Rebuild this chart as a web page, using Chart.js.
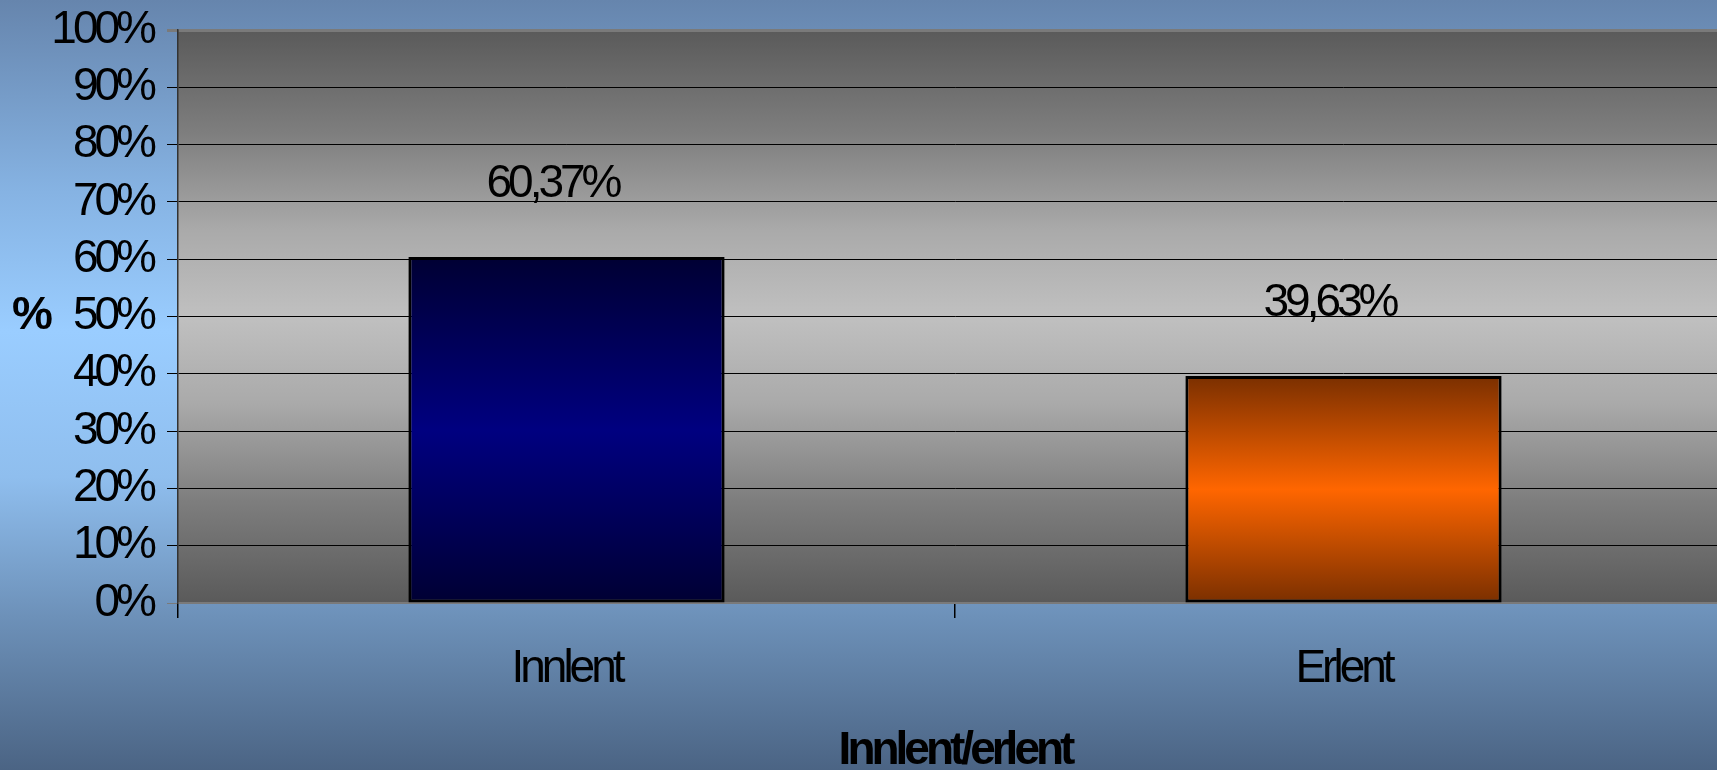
<!DOCTYPE html>
<html>
<head>
<meta charset="utf-8">
<script src="https://cdn.jsdelivr.net/npm/chart.js@4/dist/chart.umd.min.js"></script>
<style>
  html, body { margin:0; padding:0; width:1717px; height:770px; overflow:hidden;
    background: linear-gradient(to bottom, #6685ad 0%, #86b3e3 25%, #9acdff 43%, #8fbeee 62%, #6d91b9 80%, #4b6484 100%); }
  #wrap { position:absolute; left:0; top:0; }
</style>
</head>
<body>
<div id="wrap"><canvas id="c" width="1740" height="770"></canvas></div>
<script>
const categories = ['Innlent', 'Erlent'];
const values = [60.37, 39.63];
const yTicks = [0, 10, 20, 30, 40, 50, 60, 70, 80, 90, 100];
const xTitle = 'Innlent/erlent';
const yTitle = '%';
const barColors = [['#000033', '#000080'], ['#7a2f00', '#ff6600']];

const FONT = "'Liberation Sans', Arial, sans-serif";
const LS = '-4px';

const setSpacing = {
  id: 'setSpacing',
  beforeDraw(chart) {
    const {ctx, chartArea: a} = chart;
    try { ctx.letterSpacing = LS; } catch (e) {}
    ctx.save();
    const g = ctx.createLinearGradient(0, a.top, 0, a.bottom);
    g.addColorStop(0, '#5a5a5a');
    g.addColorStop(0.18, '#7e7e7e');
    g.addColorStop(0.35, '#aaaaaa');
    g.addColorStop(0.5, '#c0c0c0');
    g.addColorStop(0.65, '#aaaaaa');
    g.addColorStop(0.82, '#7e7e7e');
    g.addColorStop(1, '#5a5a5a');
    ctx.fillStyle = g;
    ctx.fillRect(a.left, a.top, a.right - a.left, a.bottom - a.top);
    ctx.restore();
  },
  afterDatasetsDraw(chart) {
    const {ctx} = chart;
    const meta = chart.getDatasetMeta(0);
    ctx.save();
    try { ctx.letterSpacing = LS; } catch (e) {}
    ctx.font = '46px ' + FONT;
    ctx.fillStyle = '#000';
    ctx.textAlign = 'center';
    ctx.textBaseline = 'alphabetic';
    meta.data.forEach((el, i) => {
      const txt = values[i].toFixed(2).replace('.', ',') + '%';
      ctx.fillText(txt, el.x - 14, el.y - 60);
    });
    ctx.restore();
  },
  afterDraw(chart) {
    const {ctx, chartArea: a} = chart;
    ctx.save();
    try { ctx.letterSpacing = LS; } catch (e) {}
    ctx.font = 'bold 46px ' + FONT;
    ctx.fillStyle = '#000';
    ctx.textAlign = 'left';
    ctx.textBaseline = 'middle';
    ctx.fillText(yTitle, 12, (a.top + a.bottom) / 2);
    ctx.restore();
  }
};

new Chart(document.getElementById('c'), {
  type: 'bar',
  data: {
    labels: categories,
    datasets: [{
      data: values,
      backgroundColor: (c) => {
        const chart = c.chart;
        if (!chart.chartArea) return barColors[c.dataIndex][1];
        const y = chart.scales.y;
        const y0 = y.getPixelForValue(0), y1 = y.getPixelForValue(values[c.dataIndex]);
        const g = chart.ctx.createLinearGradient(0, y1, 0, y0);
        const cols = barColors[c.dataIndex];
        g.addColorStop(0, cols[0]);
        g.addColorStop(0.5, cols[1]);
        g.addColorStop(1, cols[0]);
        return g;
      },
      borderColor: '#000',
      borderWidth: 3,
      borderSkipped: false,
      barPercentage: 0.407,
      categoryPercentage: 1
    }]
  },
  options: {
    responsive: false,
    animation: false,
    layout: { padding: { left: 0, right: 8, top: 30, bottom: 0 } },
    plugins: { legend: { display: false }, tooltip: { enabled: false } },
    scales: {
      x: {
        afterFit: (s) => { s.height = 167; s.paddingLeft = 0; s.paddingRight = 0; },
        grid: { offset: true, drawOnChartArea: false, drawTicks: true, tickLength: 15, color: '#000', lineWidth: 1.5 },
        border: { display: true, color: '#7a7a7a', width: 2 },
        ticks: { color: '#000', font: { family: FONT, size: 46, lineHeight: 1 }, padding: 28, maxRotation: 0, autoSkip: false },
        title: { display: true, text: xTitle, color: '#000', font: { family: FONT, size: 46, weight: 'bold', lineHeight: 1 }, padding: { top: 0, bottom: -4 } }
      },
      y: {
        min: 0, max: 100,
        afterFit: (s) => { s.width = 178; s.paddingTop = 0; s.paddingBottom = 0; },
        afterBuildTicks: (s) => { s.ticks = yTicks.map(v => ({ value: v })); },
        grid: {
          color: (c) => (c.tick && (c.tick.value === 100 || c.tick.value === 0)) ? '#7a7a7a' : '#000',
          lineWidth: (c) => (c.tick && c.tick.value === 100) ? 3 : 1,
          tickLength: 11
        },
        border: { display: true, color: '#333', width: 1.5 },
        ticks: { color: '#000', font: { family: FONT, size: 46, lineHeight: 1 }, padding: 14, callback: (v) => v + '%' }
      }
    }
  },
  plugins: [setSpacing]
});
</script>
</body>
</html>
